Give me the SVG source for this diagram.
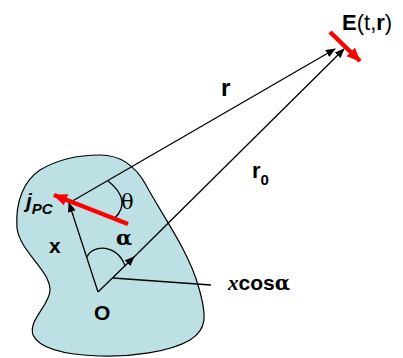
<svg xmlns="http://www.w3.org/2000/svg" width="403" height="358" viewBox="0 0 403 358">
<style>
.ln{stroke:#000;stroke-width:1.3;fill:none}
.red{stroke:#ff0000;stroke-width:4.5;fill:none}
.sans{font-family:"Liberation Sans",Arial,sans-serif;font-weight:bold;fill:#000}
.serif{font-family:"Liberation Serif","Times New Roman",serif;fill:#000}
.greek{font-family:"DejaVu Serif","Liberation Serif",serif;fill:#000}
</style>
<defs>
<marker id="ah" markerWidth="10" markerHeight="8" refX="9" refY="4" orient="auto" markerUnits="userSpaceOnUse">
<path d="M0,0 L10,4 L0,8 Z" fill="#000"/>
</marker>
<marker id="rh" markerWidth="14" markerHeight="12" refX="13" refY="6" orient="auto" markerUnits="userSpaceOnUse">
<path d="M0,0 L14,6 L0,12 Z" fill="#ff0000"/>
</marker>
</defs>
<g id="body">
<path d="M100,155 C120,155 135,165 146,185 C162,215 188,250 198,285 C208,318 206,330 190,340 C170,352 130,357 100,356 C70,355 40,350 33,335 C28,320 50,305 50,290 C50,270 20,252 17,228 C15,200 25,180 40,170 C60,158 80,155 100,155 Z" fill="#bce0e4" stroke="#000" stroke-width="1.2"/>
</g>
<g id="connectors">
<line class="ln" x1="98" y1="292" x2="69" y2="203" marker-end="url(#ah)"/>
<line class="ln" x1="69" y1="203" x2="335" y2="49" marker-end="url(#ah)"/>
<line class="ln" x1="98" y1="292" x2="134" y2="257" marker-end="url(#ah)"/>
<line class="ln" x1="132" y1="259" x2="344" y2="49" marker-end="url(#ah)"/>
<line class="ln" x1="113" y1="278" x2="211" y2="285"/>
<path class="ln" d="M108,181 Q132,200 115,218"/>
<path class="ln" d="M87,257 C92,244 118,244 125,266"/>
<line class="red" x1="128" y1="224" x2="54" y2="195" marker-end="url(#rh)"/>
<line class="red" x1="330" y1="32" x2="360" y2="61" marker-end="url(#rh)"/>
</g>
<g id="labels">
<text class="sans" x="342" y="30" font-size="22">E<tspan font-weight="normal">(t,</tspan>r<tspan font-weight="normal">)</tspan></text>
<text class="sans" x="221" y="96" font-size="24">r</text>
<text class="sans" x="252" y="178" font-size="22">r<tspan font-size="15" dy="7">0</tspan></text>
<text class="sans" x="26" y="208" font-size="21" font-style="italic">j<tspan font-size="15" dy="6">PC</tspan></text>
<text class="sans" x="49" y="253" font-size="21">x</text>
<text class="sans" x="94" y="320" font-size="21">O</text>
<text class="greek" x="121" y="209" font-size="21">θ</text>
<text class="greek" x="116" y="245" font-size="21" font-weight="bold">α</text>
<text x="228" y="290" font-size="21"><tspan class="serif" font-style="italic" font-weight="bold">x</tspan><tspan class="sans">cos</tspan><tspan class="greek" font-weight="bold" font-size="20">α</tspan></text>
</g>
</svg>
